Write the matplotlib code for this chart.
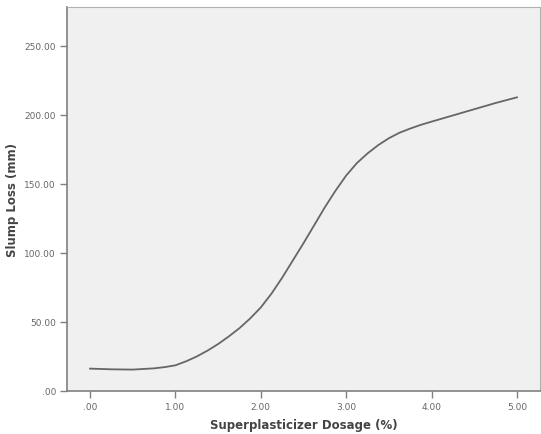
import matplotlib
matplotlib.use("Agg")
import matplotlib.pyplot as plt
from matplotlib.ticker import FuncFormatter

dosage = [0.0, 0.25, 0.5, 0.75, 0.875, 1.0, 1.125, 1.25, 1.375, 1.5, 1.625, 1.75,
          1.875, 2.0, 2.125, 2.25, 2.375, 2.5, 2.625, 2.75, 2.875, 3.0, 3.125,
          3.25, 3.375, 3.5, 3.625, 3.75, 3.875, 4.0, 4.25, 4.5, 4.75, 5.0]
slump_loss = [16.2, 15.7, 15.5, 16.4, 17.3, 18.6, 21.5, 25.0, 29.2, 34.0, 39.5, 45.5,
              52.5, 60.5, 70.5, 82.0, 94.5, 107.0, 120.0, 133.0, 145.0, 156.0, 165.0,
              172.0, 178.0, 183.0, 187.0, 190.0, 192.7, 195.0, 199.5, 204.0, 208.5, 212.6]
x_ticks = [0, 1, 2, 3, 4, 5]
y_ticks = [0, 50, 100, 150, 200, 250]

def fmt(v, pos=None):
    s = f"{v:.2f}"
    return s[1:] if s.startswith("0") else s

fig = plt.figure(figsize=(5.41, 4.35), dpi=100)
ax = fig.add_axes([67/541, 43/435, 473/541, 384/435])
ax.set_facecolor("#f0f0f0")
ax.plot(dosage, slump_loss, color="#666666", lw=1.3, solid_joinstyle="round")
ax.set_xlim(-0.27, 5.27)
ax.set_ylim(0, 278)
ax.set_xticks(x_ticks)
ax.set_yticks(y_ticks)
ax.xaxis.set_major_formatter(FuncFormatter(fmt))
ax.yaxis.set_major_formatter(FuncFormatter(fmt))
for s in ["left", "bottom"]:
    ax.spines[s].set_color("#808080")
    ax.spines[s].set_linewidth(1.2)
for s in ["top", "right"]:
    ax.spines[s].set_color("#b0b0b0")
    ax.spines[s].set_linewidth(0.8)
ax.tick_params(direction="out", length=5, width=1, color="#808080",
               labelsize=6.5, labelcolor="#666666", pad=3)
ax.set_xlabel("Superplasticizer Dosage (%)", fontsize=8.5, fontweight="bold",
              color="#444444", labelpad=5)
ax.set_ylabel("Slump Loss (mm)", fontsize=8.5, fontweight="bold",
              color="#444444", labelpad=4)
fig.savefig("out.png", dpi=100)
